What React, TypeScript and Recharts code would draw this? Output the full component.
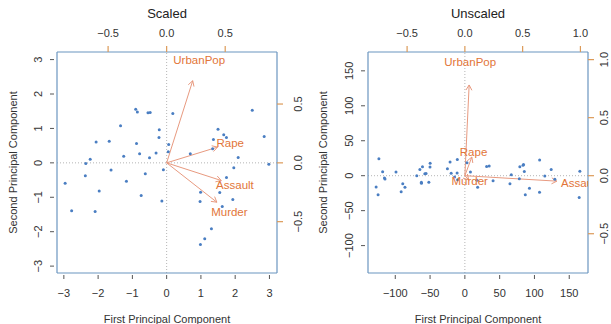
import React from "react";
import { ScatterChart, Scatter, XAxis, YAxis, ReferenceLine } from "recharts";

// USArrests, 50 states: principal component scores as plotted in the two biplots
const states = [
  "Alabama", "Alaska", "Arizona", "Arkansas", "California", "Colorado", "Connecticut",
  "Delaware", "Florida", "Georgia", "Hawaii", "Idaho", "Illinois", "Indiana", "Iowa",
  "Kansas", "Kentucky", "Louisiana", "Maine", "Maryland", "Massachusetts", "Michigan",
  "Minnesota", "Mississippi", "Missouri", "Montana", "Nebraska", "Nevada", "New Hampshire",
  "New Jersey", "New Mexico", "New York", "North Carolina", "North Dakota", "Ohio",
  "Oklahoma", "Oregon", "Pennsylvania", "Rhode Island", "South Carolina", "South Dakota",
  "Tennessee", "Texas", "Utah", "Vermont", "Virginia", "Washington", "West Virginia",
  "Wisconsin", "Wyoming",
];

const scaledPC1 = [
  0.976, 1.931, 1.745, -0.14, 2.499, 1.499, -1.345, 0.047, 2.983, 1.623,
  -0.903, -1.623, 1.365, -0.5, -2.231, -0.789, -0.743, 1.549, -2.373, 1.746,
  -0.481, 2.087, -1.676, 0.986, 0.69, -1.174, -1.253, 2.846, -2.36, 0.18,
  1.96, 1.666, 1.112, -2.962, -0.224, -0.309, 0.059, -0.879, -0.855, 1.307,
  -1.968, 0.99, 1.342, -0.545, -2.773, -0.095, -0.215, -2.087, -2.059, -0.623,
];
const scaledPC2 = [
  -1.122, -1.062, 0.738, -1.109, 1.527, 0.978, 1.078, 0.322, -0.039, -1.266,
  1.555, -0.209, 0.675, 0.15, 0.103, 0.267, -0.949, -0.862, -0.373, -0.423,
  1.46, 0.154, 0.626, -2.37, 0.261, -0.531, 0.192, 0.768, -0.018, 1.435,
  -0.141, 0.815, -2.206, -0.593, 0.735, 0.285, 0.536, 0.565, 1.477, -1.914,
  -0.815, -0.852, 0.408, 1.457, -1.388, -0.198, 0.96, -1.411, 0.605, -0.318,
];

const unscaledPC1 = [
  64.8, 92.83, 124.07, 18.34, 107.42, 34.98, -60.89, 66.73, 165.24, 40.54,
  -123.54, -51.8, 78.99, -57.55, -115.59, -55.79, -62.38, 78.27, -89.26, 129.33,
  -21.27, 85.45, -98.96, 86.86, 7.99, -62.48, -69.1, 83.61, -114.77, -10.82,
  114.87, 84.29, 164.33, -127.5, -50.09, -19.7, -11.15, -64.69, 3.06, 107.28,
  -86.1, 17.51, 31.29, -49.92, -124.71, -14.82, -25.08, -91.54, -118.17, -10.43,
];
const unscaledPC2 = [
  -11.45, -17.99, 8.83, -16.7, 22.52, 13.72, 12.94, 1.35, 6.27, -7.29,
  24.3, -9.47, 12.9, 2.85, -3.34, 3.16, -10.67, -4.3, -11.48, -5.01,
  19.45, 5.9, 5.21, -27.4, 5.28, -9.51, -0.21, 15.1, -4.73, 23.14,
  -0.34, 15.92, -31.1, -16.13, 12.28, 3.37, 3.87, 8.92, 18.37, -23.54,
  -16.6, -6.51, 12.99, 17.65, -27.31, -1.75, 9.97, -22.95, 5.51, -5.92,
];

// loading vectors (arrows)
const variables = ["Murder", "Assault", "UrbanPop", "Rape"];
const scaledLoad1 = [0.5359, 0.5832, 0.2782, 0.5434];
const scaledLoad2 = [-0.4182, -0.188, 0.8728, 0.1673];
const unscaledLoad1 = [0.0417, 0.9952, 0.0463, 0.0752];
const unscaledLoad2 = [-0.0448, -0.0588, 0.9769, 0.2007];

// axes
const scaledScoreTicks = [-3, -2, -1, 0, 1, 2, 3];
const scaledLoadTicks = [-0.5, 0, 0.5];
const unscaledScoreTicks = [-100, -50, 0, 50, 100, 150];
const unscaledLoadTicks = [-0.5, 0, 0.5, 1];
const scaledScoreDomain = [-3.2, 3.2206];
const scaledLoadDomain = [-0.9364, 0.9424];
const unscaledScoreDomain = [-139.2, 176.95];
const unscaledLoadDomain = [-0.8384, 1.0657];

const arrowLen = 0.8;

const BOX = "#6b95c0";
const DOT = "#4a7ec2";
const ORANGE = "#e27538";
const ARROW = "#e89a80";
const ORANGE_TICK = "#dc9a58";
const GREY = "#555";
const LABEL = "#333";

const fmt = (v: number, digits: number) =>
  (v < 0 ? "\u2212" : "") + Math.abs(v).toFixed(digits);

type Side = "bottom" | "left" | "top" | "right";

function makeTick(side: Side, digits: number, gap = 21) {
  return (props: any) => {
    const { x, y, payload } = props;
    const txt = fmt(payload.value, digits);
    const t = { fontSize: 11, fill: LABEL, textAnchor: "middle" as const, dominantBaseline: "central" as const };
    if (side === "bottom") {
      return (
        <g>
          <line x1={x} x2={x} y1={y + 2} y2={y + 6} stroke={GREY} />
          <text x={x} y={y + 20} {...t}>{txt}</text>
        </g>
      );
    }
    if (side === "left") {
      return (
        <g>
          <line x1={x - 3} x2={x - 7} y1={y} y2={y} stroke={GREY} />
          <text x={x - 19} y={y} transform={`rotate(-90, ${x - 19}, ${y})`} {...t}>{txt}</text>
        </g>
      );
    }
    if (side === "top") {
      return (
        <g>
          <line x1={x} x2={x} y1={y} y2={y - 6} stroke={ORANGE_TICK} strokeWidth={1.2} />
          <text x={x} y={y - 19} {...t}>{txt}</text>
        </g>
      );
    }
    return (
      <g>
        <line x1={x} x2={x + 6} y1={y} y2={y} stroke={ORANGE_TICK} strokeWidth={1.2} />
        <text x={x + gap} y={y} transform={`rotate(-90, ${x + gap}, ${y})`} {...t}>{txt}</text>
      </g>
    );
  };
}

const Arrow = (props: any) => {
  const { x1, y1, x2, y2 } = props;
  const a = Math.atan2(y2 - y1, x2 - x1);
  const h = 6;
  const s = Math.PI / 6;
  const head = `${x2 - h * Math.cos(a - s)},${y2 - h * Math.sin(a - s)} ${x2},${y2} ${x2 - h * Math.cos(a + s)},${y2 - h * Math.sin(a + s)}`;
  return (
    <g>
      <line x1={x1} y1={y1} x2={x2} y2={y2} stroke={ARROW} strokeWidth={1} />
      <polyline points={head} fill="none" stroke={ARROW} strokeWidth={1} />
    </g>
  );
};

interface PanelProps {
  title: string;
  width: number;
  left: number;
  leftAxisWidth: number;
  yTitleOffset: number;
  rightLabelGap: number;
  pc1: number[];
  pc2: number[];
  load1: number[];
  load2: number[];
  scoreDomain: number[];
  loadDomain: number[];
  scoreTicks: number[];
  loadTicks: number[];
}

function Biplot(p: PanelProps) {
  const points = states.map((s, i) => ({ name: s, x: p.pc1[i], y: p.pc2[i] }));
  const labels = variables.map((v, i) => ({ name: v, x: p.load1[i], y: p.load2[i] }));
  const rightAxisWidth = p.width - p.leftAxisWidth - 220;

  return (
    <div style={{ position: "absolute", left: p.left, top: 0 }}>
      <ScatterChart width={p.width} height={324} margin={{ top: 0, right: 0, bottom: 0, left: 0 }}>
        <XAxis
          xAxisId="pc"
          dataKey="x"
          type="number"
          orientation="bottom"
          height={51}
          domain={p.scoreDomain}
          allowDataOverflow
          ticks={p.scoreTicks}
          interval={0}
          tickSize={0}
          tickMargin={0}
          tickLine={false}
          axisLine={{ stroke: BOX, strokeWidth: 1.2 }}
          tick={makeTick("bottom", 0)}
          label={{ value: "First Principal Component", position: "insideBottom", offset: 1, fontSize: 11, fill: LABEL }}
        />
        <XAxis
          xAxisId="ld"
          dataKey="x"
          type="number"
          orientation="top"
          height={52}
          domain={p.loadDomain}
          allowDataOverflow
          ticks={p.loadTicks}
          interval={0}
          tickSize={0}
          tickMargin={0}
          tickLine={false}
          axisLine={{ stroke: BOX, strokeWidth: 1.2 }}
          tick={makeTick("top", 1)}
          label={{ value: p.title, position: "insideTop", offset: 9, fontSize: 13, fill: "#222" }}
        />
        <YAxis
          yAxisId="pc"
          dataKey="y"
          type="number"
          orientation="left"
          width={p.leftAxisWidth}
          domain={p.scoreDomain}
          allowDataOverflow
          ticks={p.scoreTicks}
          interval={0}
          tickSize={0}
          tickMargin={0}
          tickLine={false}
          axisLine={{ stroke: BOX, strokeWidth: 1.2 }}
          tick={makeTick("left", 0)}
          label={{
            value: "Second Principal Component",
            angle: -90,
            position: "insideLeft",
            offset: p.yTitleOffset,
            fontSize: 11,
            fill: LABEL,
            style: { textAnchor: "middle" },
          }}
        />
        <YAxis
          yAxisId="ld"
          dataKey="y"
          type="number"
          orientation="right"
          width={rightAxisWidth}
          domain={p.loadDomain}
          allowDataOverflow
          ticks={p.loadTicks}
          interval={0}
          tickSize={0}
          tickMargin={0}
          tickLine={false}
          axisLine={{ stroke: BOX, strokeWidth: 1.2 }}
          tick={makeTick("right", 1, p.rightLabelGap)}
        />
        <ReferenceLine xAxisId="pc" yAxisId="pc" x={0} stroke="#b5b5b5" strokeDasharray="1 2" />
        <ReferenceLine xAxisId="pc" yAxisId="pc" y={0} stroke="#b5b5b5" strokeDasharray="1 2" />
        <Scatter
          xAxisId="pc"
          yAxisId="pc"
          data={points}
          isAnimationActive={false}
          shape={(s: any) => <circle cx={s.cx} cy={s.cy} r={1.5} fill={DOT} />}
        />
        {labels.map((l) => (
          <ReferenceLine
            key={l.name}
            xAxisId="ld"
            yAxisId="ld"
            segment={[{ x: 0, y: 0 }, { x: l.x * arrowLen, y: l.y * arrowLen }]}
            shape={Arrow}
          />
        ))}
        <Scatter
          xAxisId="ld"
          yAxisId="ld"
          data={labels}
          isAnimationActive={false}
          shape={(s: any) => (
            <text x={s.cx} y={s.cy} textAnchor="middle" dominantBaseline="central" fontSize={11.5} fill={ORANGE}>
              {s.payload.name}
            </text>
          )}
        />
      </ScatterChart>
    </div>
  );
}

export default function App() {
  return (
    <div
      style={{
        position: "absolute",
        left: 0,
        top: 0,
        width: 611,
        height: 324,
        background: "#fff",
        fontFamily: '"Liberation Sans", Arial, Helvetica, sans-serif',
      }}
    >
      <Biplot
        title="Scaled"
        width={305}
        left={0}
        leftAxisWidth={57}
        yTitleOffset={13}
        rightLabelGap={21}
        pc1={scaledPC1}
        pc2={scaledPC2}
        load1={scaledLoad1}
        load2={scaledLoad2}
        scoreDomain={scaledScoreDomain}
        loadDomain={scaledLoadDomain}
        scoreTicks={scaledScoreTicks}
        loadTicks={scaledLoadTicks}
      />
      <Biplot
        title="Unscaled"
        width={306}
        left={305}
        leftAxisWidth={63}
        yTitleOffset={18}
        rightLabelGap={16}
        pc1={unscaledPC1}
        pc2={unscaledPC2}
        load1={unscaledLoad1}
        load2={unscaledLoad2}
        scoreDomain={unscaledScoreDomain}
        loadDomain={unscaledLoadDomain}
        scoreTicks={unscaledScoreTicks}
        loadTicks={unscaledLoadTicks}
      />
    </div>
  );
}
